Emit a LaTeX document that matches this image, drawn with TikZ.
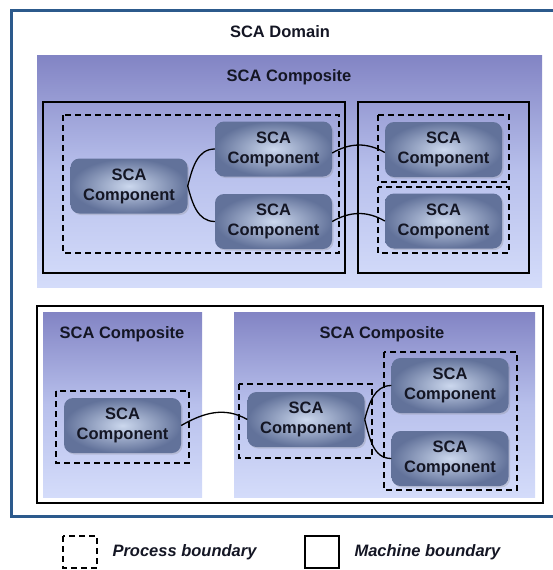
\documentclass[tikz,border=0pt]{standalone}
\usepackage{fontspec}
\setmainfont{Liberation Sans}
\usetikzlibrary{shadows}

\definecolor{domainblue}{RGB}{44,90,140}
\definecolor{comptop}{RGB}{130,132,196}
\definecolor{compmid}{RGB}{184,192,236}
\definecolor{compbot}{RGB}{212,220,250}
\definecolor{partdark}{RGB}{98,114,154}
\definecolor{partlight}{RGB}{204,216,238}
\definecolor{parttext}{RGB}{20,22,36}

\begin{document}
\begin{tikzpicture}[x=1pt, y=-1pt,
    heading/.style={font=\fontsize{16.5}{20}\selectfont\bfseries, text=parttext},
    component/.style={heading, align=center, rounded corners=9pt,
      minimum width=117pt, minimum height=55pt,
      inner color=partlight, outer color=partdark,
      drop shadow={shadow xshift=1.5pt, shadow yshift=-1.5pt, opacity=0.25}},
    composite/.style={top color=comptop, bottom color=compbot, middle color=compmid},
    process/.style={dash pattern=on 6pt off 4pt, line width=1.8pt},
    machine/.style={line width=1.8pt},
    wire/.style={line width=1.3pt}]
    \useasboundingbox (0,0) rectangle (552,570);

    % domain frame
    \draw[domainblue, line width=3pt] (11,10) rectangle (560,516);
    \node[heading] (domain) at (280,32) {SCA Domain};

    % upper composite
    \fill[composite] (37,55) rectangle (542,287);
    \node[heading] (topcomp) at (289,77) {SCA Composite};
    \draw[machine] (43,102) rectangle (345,273);
    \draw[machine] (358,102) rectangle (529,273);
    \draw[process] (63,115) rectangle (339,253);
    \draw[process] (378,115) rectangle (509,182);
    \draw[process] (378,187) rectangle (509,253);

    \node[component] (c1) at (129,186) {SCA\\Component};
    \node[component] (c2) at (273.5,149) {SCA\\Component};
    \node[component] (c3) at (273.5,221.5) {SCA\\Component};
    \node[component] (c4) at (443.5,149.5) {SCA\\Component};
    \node[component] (c5) at (443.5,221) {SCA\\Component};

    \draw[wire] (c1.east) to[out=75, in=180] (c2.west);
    \draw[wire] (c1.east) to[out=-75, in=180] (c3.west);
    \draw[wire] ([yshift=-4pt]c2.east) to[out=30, in=150] ([yshift=-3pt]c4.west);
    \draw[wire] (c3.east) to[out=30, in=150] (c5.west);

    % lower machine
    \draw[machine] (37,306) rectangle (543,503);
    \fill[composite] (43,312) rectangle (202,497);
    \fill[composite] (234,312) rectangle (535,497);
    \node[heading] (leftcomp) at (122,334) {SCA Composite};
    \node[heading] (rightcomp) at (382,334) {SCA Composite};
    \draw[process] (56,391) rectangle (189,463);
    \draw[process] (239,384) rectangle (372,458);
    \draw[process] (384,352) rectangle (517,490);

    \node[component] (c6) at (122.5,425.5) {SCA\\Component};
    \node[component] (c7) at (306,419.5) {SCA\\Component};
    \node[component] (c8) at (450,385.5) {SCA\\Component};
    \node[component] (c9) at (450,458.5) {SCA\\Component};

    \draw[wire] (c6.east) to[out=30, in=150] (c7.west);
    \draw[wire] (c7.east) to[out=75, in=180] (c8.west);
    \draw[wire] (c7.east) to[out=-75, in=180] (c9.west);

    % legend
    \draw[process, line width=1.5pt] (63,536) rectangle (97,568);
    \node[heading, font=\fontsize{16.5}{20}\selectfont\bfseries\itshape, anchor=west] (proclabel) at (109,552) {Process boundary};
    \draw[machine, line width=1.5pt] (305,536) rectangle (339,568);
    \node[heading, font=\fontsize{16.5}{20}\selectfont\bfseries\itshape, anchor=west] (machlabel) at (351,552) {Machine boundary};
\end{tikzpicture}
\end{document}
